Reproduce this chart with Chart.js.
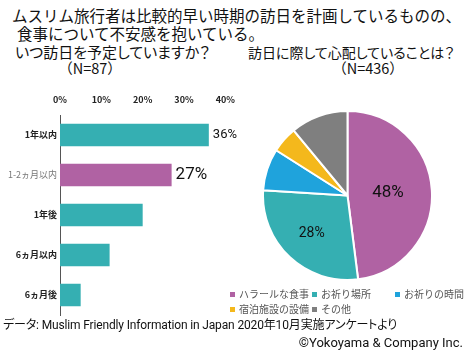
<!DOCTYPE html>
<html lang="ja">
<head>
<meta charset="utf-8">
<script src="https://cdn.jsdelivr.net/npm/chart.js@4.4.1/dist/chart.umd.min.js"></script>
<style>
  body { margin: 0; background: #fff; }
  #page { position: relative; width: 465px; height: 363px; overflow: hidden; font-family: "Noto Sans CJK JP", sans-serif; color: #111; }
  .txt { position: absolute; white-space: nowrap; }
  .palt { font-feature-settings: "palt"; }
  canvas { position: absolute; }
  .lg { position: absolute; font-size: 10px; line-height: 10px; color: #555; white-space: nowrap; }
  .lg i { display: inline-block; width: 5px; height: 5px; margin-right: 4px; vertical-align: 1px; }
  .foot { font-size: 13px; line-height: 16px; font-family: Roboto, "Noto Sans CJK JP", sans-serif; }
</style>
</head>
<body>
<div id="page">
  <div class="txt" style="left:12px; top:6px; font-size:15.5px; line-height:18px;">ムスリム旅行者は比較的早い時期の訪日を計画しているものの、</div>
  <div class="txt" style="left:17px; top:24px; font-size:15.5px; line-height:18px;">食事について不安感を抱いている。</div>
  <div class="txt palt" style="left:15px; top:43px; font-size:15px; line-height:18px;">いつ訪日を予定していますか？</div>
  <div class="txt" style="left:40px; width:100px; text-align:center; top:59px; font-size:14.5px; line-height:18px;">（N=87）</div>
  <div class="txt palt" style="left:248px; top:43px; font-size:14px; line-height:18px;">訪日に際して心配していることは？</div>
  <div class="txt" style="left:318px; width:100px; text-align:center; top:59px; font-size:14.5px; line-height:18px;">（N=436）</div>

  <canvas id="barChart" width="245" height="363" style="left:0; top:0;"></canvas>
  <canvas id="pieChart" width="171" height="171" style="left:262px; top:110px;"></canvas>
  <div id="legend"></div>

  <div class="txt foot palt" style="left:3px; top:317px; font-size:12px; letter-spacing:-0.15px;">データ: Muslim Friendly Information in Japan 2020年10月実施アンケートより</div>
  <div class="txt foot" style="right:2px; top:335px;">©Yokoyama &amp; Company Inc.</div>
</div>
<script>
// bar chart data
const barCategories = ['1年以内', '1-2ヵ月以内', '1年後', '6ヵ月以内', '6ヵ月後'];
const barValues = [36, 27, 20, 12, 5];
const barLabels = ['36%', '27%', '', '', ''];
const barTickMax = 40;
const barTickStep = 10;

// pie chart data
const pieCategories = ['ハラールな食事', 'お祈り場所', 'お祈りの時間', '宿泊施設の設備', 'その他'];
const pieValues = [48, 28, 8, 5, 11];
const pieLabels = ['48%', '28%', '', '', ''];

const TEAL = '#35AFB2';
const PURPLE = '#B062A3';
const highlightIndex = 1;
const pieColors = [PURPLE, TEAL, '#1FA3DC', '#F4B81C', '#7F7F7F'];
const numFont = "Roboto, 'Noto Sans CJK JP', sans-serif";

const barLabelPlugin = {
    id: 'barLabels',
    afterDatasetsDraw: (chart) => {
        const ctx = chart.ctx;
        const sizes = [13, 17];
        chart.getDatasetMeta(0).data.forEach((bar, i) => {
            if (!barLabels[i]) return;
            ctx.save();
            ctx.font = sizes[i] + 'px ' + numFont;
            ctx.fillStyle = '#111';
            ctx.textAlign = 'left';
            ctx.textBaseline = 'middle';
            ctx.fillText(barLabels[i], bar.x + 4, bar.y);
            ctx.restore();
        });
    }
};

new Chart(document.getElementById('barChart'), {
    type: 'bar',
    data: {
        labels: barCategories,
        datasets: [{
            data: barValues,
            backgroundColor: barValues.map((v, i) => i === highlightIndex ? PURPLE : TEAL),
            barPercentage: 0.56,
            categoryPercentage: 1
        }]
    },
    options: {
        responsive: false,
        animation: false,
        indexAxis: 'y',
        layout: { padding: { left: 0, top: 0, right: 19, bottom: 48 } },
        plugins: { legend: { display: false }, tooltip: { enabled: false } },
        scales: {
            x: {
                position: 'top',
                min: 0,
                max: barTickMax,
                grid: { display: false, drawTicks: false },
                border: { display: false },
                afterFit: (scale) => { scale.height = 115; },
                ticks: {
                    stepSize: barTickStep,
                    padding: 10,
                    color: '#222',
                    font: { size: 9, weight: 'bold', family: "'Noto Sans CJK JP', sans-serif" },
                    callback: (v) => v + '%'
                }
            },
            y: {
                grid: { display: false, drawTicks: false },
                border: { display: true, color: '#555', width: 1 },
                afterFit: (scale) => { scale.width = 60; },
                ticks: {
                    padding: 3,
                    color: (c) => c.index === highlightIndex ? '#777' : '#222',
                    font: (c) => ({
                        size: 9,
                        weight: c.index === highlightIndex ? 'normal' : 'bold',
                        family: "'Noto Sans CJK JP', sans-serif"
                    })
                }
            }
        }
    },
    plugins: [barLabelPlugin]
});

const pieLabelPlugin = {
    id: 'pieLabels',
    afterDatasetsDraw: (chart) => {
        const ctx = chart.ctx;
        const sizes = [17, 14];
        const fractions = [0.48, 0.62];
        chart.getDatasetMeta(0).data.forEach((arc, i) => {
            if (!pieLabels[i]) return;
            const mid = (arc.startAngle + arc.endAngle) / 2;
            const r = arc.outerRadius * fractions[i];
            ctx.save();
            ctx.font = sizes[i] + 'px ' + numFont;
            ctx.fillStyle = '#111';
            ctx.textAlign = 'center';
            ctx.textBaseline = 'middle';
            ctx.fillText(pieLabels[i], arc.x + Math.cos(mid) * r, arc.y + Math.sin(mid) * r);
            ctx.restore();
        });
    }
};

new Chart(document.getElementById('pieChart'), {
    type: 'pie',
    data: {
        labels: pieCategories,
        datasets: [{
            data: pieValues,
            backgroundColor: pieColors,
            borderColor: '#fff',
            borderWidth: 2
        }]
    },
    options: {
        responsive: false,
        animation: false,
        layout: { padding: 0 },
        plugins: { legend: { display: false }, tooltip: { enabled: false } }
    },
    plugins: [pieLabelPlugin]
});

// legend (two rows, three columns)
const legendCols = [230, 312, 395];
const legendRows = [289, 304];
const legendEl = document.getElementById('legend');
pieCategories.forEach((name, i) => {
    const item = document.createElement('div');
    item.className = 'lg';
    item.style.left = legendCols[i % 3] + 'px';
    item.style.top = legendRows[Math.floor(i / 3)] + 'px';
    item.innerHTML = '<i style="background:' + pieColors[i] + '"></i>' + name;
    legendEl.appendChild(item);
});
</script>
</body>
</html>
